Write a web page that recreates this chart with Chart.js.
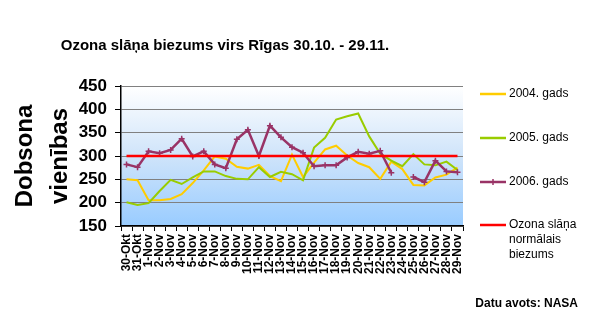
<!DOCTYPE html>
<html>
<head>
<meta charset="utf-8">
<script src="https://cdn.jsdelivr.net/npm/chart.js@4/dist/chart.umd.min.js"></script>
<style>
  body { margin: 0; background: #fff; }
</style>
</head>
<body>
<canvas id="mycanvas" width="590" height="331"></canvas>
<script>
// dates 30.10. - 29.11.
var dates = ["30-Okt", "31-Okt"];
for (var d = 1; d <= 29; d++) dates.push(d + "-Nov");

var gads2004 = [250, 248, 205, 205, 208, 218, 242, 269, 299, 294, 277, 273, 281, 257, 246, 303,
  255, 286, 314, 322, 301, 285, 276, 251, 288, 272, 238, 237, 254, 260, 275];
var gads2005 = [201, 195, 199, 225, 249, 240, 254, 267, 267, 257, 251, 250, 276, 255, 266, 261,
  248, 318, 339, 378, 385, 391, 342, 305, 290, 278, 304, 282, 280, 288, 270];
var gads2006 = [282, 276, 310, 306, 313, 337, 299, 310, 282, 274, 336, 356, 300, 365, 340, 319,
  307, 278, 280, 280, 297, 309, 305, 311, 264, null, 255, 244, 290, 267, 265];
var norma = dates.map(function () { return 300; });

var yTicks = [150, 200, 250, 300, 350, 400, 450];

var FONT = "'Liberation Sans', Arial, sans-serif";
Chart.defaults.font.family = FONT;
Chart.defaults.color = "#000";

var legendItems = [
  { text: ["2004. gads"], color: "#FFCC00", y: 94 },
  { text: ["2005. gads"], color: "#99CC00", y: 138 },
  { text: ["2006. gads"], color: "#993366", y: 182, marker: true },
  { text: ["Ozona slāņa", "normālais", "biezums"], color: "#FF0000", y: 225 }
];

var extras = {
  id: "extras",
  beforeDraw: function (chart) {
    var ctx = chart.ctx, a = chart.chartArea;
    var g = ctx.createLinearGradient(0, a.top, 0, a.bottom);
    g.addColorStop(0, "#FFFFFF");
    g.addColorStop(0.5, "#CFE4FA");
    g.addColorStop(1, "#99CCFF");
    ctx.save();
    ctx.fillStyle = g;
    ctx.fillRect(a.left, a.top, a.right - a.left, a.bottom - a.top);
    ctx.restore();
  },
  afterDraw: function (chart) {
    var ctx = chart.ctx;
    ctx.save();
    // title
    ctx.fillStyle = "#000";
    ctx.font = "bold 15px " + FONT;
    ctx.textAlign = "center";
    ctx.textBaseline = "middle";
    ctx.fillText("Ozona slāņa biezums virs Rīgas 30.10. - 29.11.", 225, 46);

    // legend
    ctx.font = "12px " + FONT;
    ctx.textAlign = "left";
    legendItems.forEach(function (it) {
      ctx.strokeStyle = it.color;
      ctx.lineWidth = 2.5;
      ctx.beginPath();
      ctx.moveTo(480, it.y);
      ctx.lineTo(506, it.y);
      ctx.stroke();
      if (it.marker) {
        ctx.lineWidth = 1.5;
        ctx.beginPath();
        ctx.moveTo(493, it.y - 3);
        ctx.lineTo(493, it.y + 3);
        ctx.stroke();
      }
      it.text.forEach(function (t, k) {
        ctx.fillText(t, 509, it.y + k * 15);
      });
    });

    // source
    ctx.font = "bold 12px " + FONT;
    ctx.textAlign = "right";
    ctx.fillText("Datu avots: NASA", 578, 304);
    ctx.restore();
  }
};

var chartdata = {
  labels: dates,
  datasets: [
    {
      label: "2004. gads",
      data: gads2004,
      borderColor: "#FFCC00",
      backgroundColor: "#FFCC00",
      borderWidth: 2,
      pointRadius: 0,
      tension: 0,
      order: 4
    },
    {
      label: "2005. gads",
      data: gads2005,
      borderColor: "#99CC00",
      backgroundColor: "#99CC00",
      borderWidth: 2,
      pointRadius: 0,
      tension: 0,
      order: 3
    },
    {
      label: "2006. gads",
      data: gads2006,
      borderColor: "#993366",
      backgroundColor: "#993366",
      borderWidth: 2.5,
      pointStyle: "cross",
      pointRadius: 3,
      pointBorderWidth: 1.5,
      spanGaps: false,
      tension: 0,
      order: 2
    },
    {
      label: "Ozona slāņa normālais biezums",
      data: norma,
      borderColor: "#FF0000",
      backgroundColor: "#FF0000",
      borderWidth: 2.5,
      pointRadius: 0,
      tension: 0,
      order: 1
    }
  ]
};

var ctx = document.getElementById("mycanvas");

var LineGraph = new Chart(ctx, {
  type: "line",
  data: chartdata,
  plugins: [extras],
  options: {
    responsive: false,
    animation: false,
    layout: { padding: { left: 0, top: 86, right: 127, bottom: 0 } },
    plugins: {
      legend: { display: false },
      tooltip: { enabled: false }
    },
    scales: {
      x: {
        offset: true,
        afterFit: function (s) { s.height = 105; },
        grid: {
          offset: true,
          drawOnChartArea: false,
          drawTicks: true,
          tickLength: 5,
          tickColor: "#000"
        },
        border: { color: "#000", width: 1.5 },
        ticks: {
          autoSkip: false,
          maxRotation: 90,
          minRotation: 90,
          padding: 3,
          font: { size: 12, weight: "bold" },
          color: "#000"
        }
      },
      y: {
        min: 150,
        max: 450,
        afterFit: function (s) { s.width = 121; },
        afterBuildTicks: function (s) {
          s.ticks = yTicks.map(function (v) { return { value: v }; });
        },
        grid: {
          color: "#808080",
          lineWidth: 1,
          tickLength: 6,
          tickColor: "#000"
        },
        border: { color: "#000", width: 1.5 },
        ticks: {
          autoSkip: false,
          padding: 8,
          font: { size: 17, weight: "bold" },
          color: "#000"
        },
        title: {
          display: true,
          text: ["Dobsona", "vienības"],
          color: "#000",
          padding: { top: 8, bottom: 0 },
          font: { size: 24, weight: "bold", lineHeight: 1.46 }
        }
      }
    }
  }
});
</script>
</body>
</html>
